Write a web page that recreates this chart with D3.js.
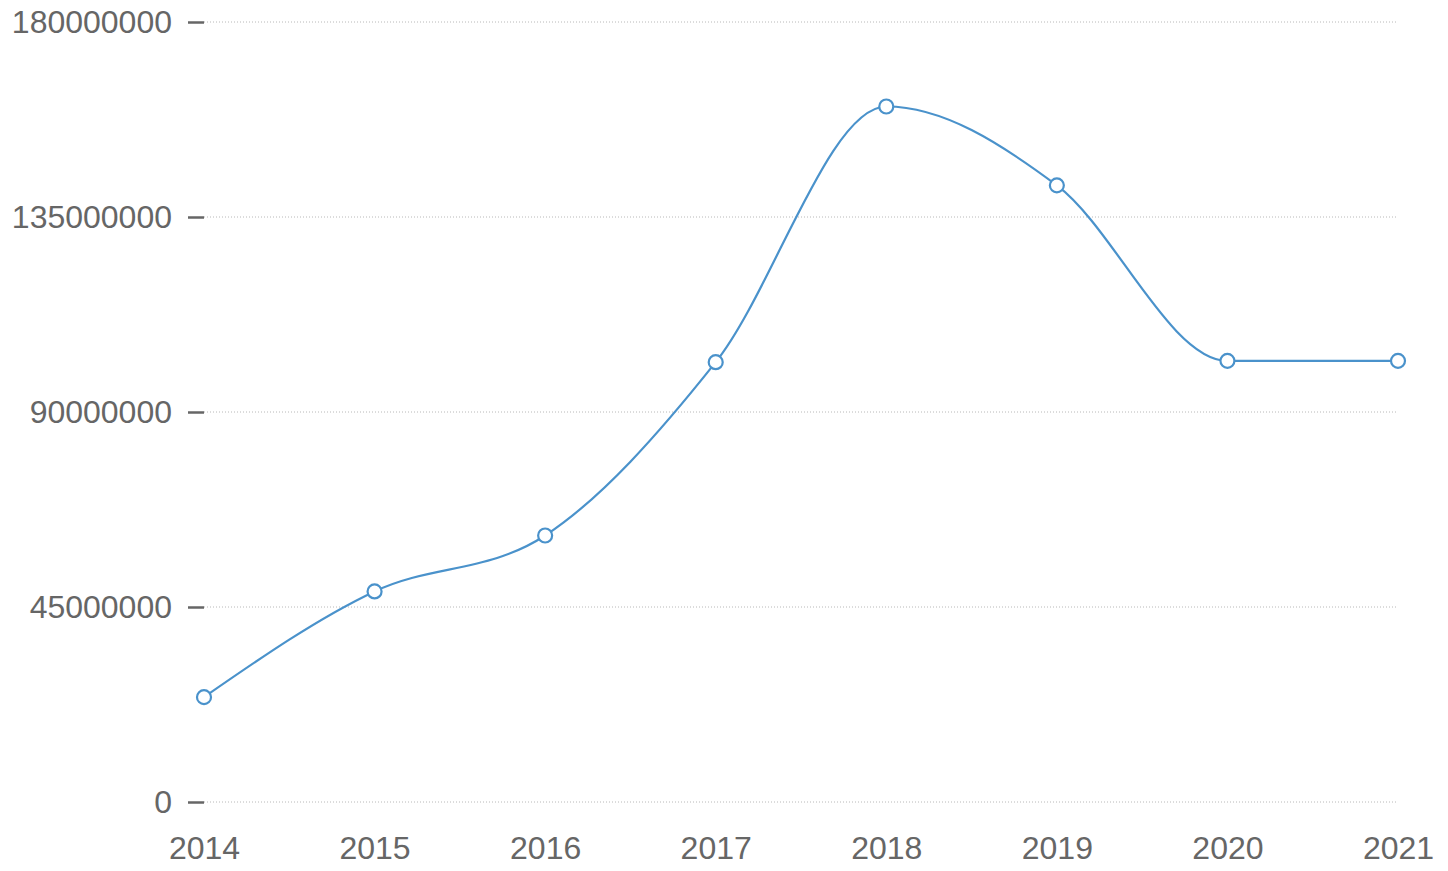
<!DOCTYPE html>
<html>
<head>
<meta charset="utf-8">
<script src="https://cdn.jsdelivr.net/npm/d3@7"></script>
<style>
  body { margin: 0; background: #fff; }
  svg { display: block; font-family: 'Liberation Sans', Arial, sans-serif; }
</style>
</head>
<body>
<svg id="chart" width="1448" height="871"></svg>
<script>
const years = ['2014', '2015', '2016', '2017', '2018', '2019', '2020', '2021'];
const values = [24200000, 48600000, 61500000, 101500000, 160500000, 142300000, 101800000, 101800000];
const yTicks = [0, 45000000, 90000000, 135000000, 180000000];

const w = 1448;
const h = 871;
const margin = { top: 22, right: 50, bottom: 69, left: 204 };
const fontSize = '32px';

const svg = d3.select('#chart');

const xScale = d3.scalePoint()
  .domain(years)
  .range([margin.left, w - margin.right]);

const yScale = d3.scaleLinear()
  .domain([0, 180000000])
  .range([h - margin.bottom, margin.top]);

// grid lines
svg.append('g')
  .selectAll('line')
  .data(yTicks)
  .enter()
  .append('line')
  .attr('x1', margin.left)
  .attr('x2', w - margin.right)
  .attr('y1', d => yScale(d))
  .attr('y2', d => yScale(d))
  .attr('stroke', '#b8b8b8')
  .attr('stroke-width', 1)
  .attr('stroke-dasharray', '1,2');

// y axis
const yAxis = svg.append('g')
  .attr('transform', `translate(${margin.left}, 0)`)
  .call(d3.axisLeft(yScale)
    .tickValues(yTicks)
    .tickFormat(d => d)
    .tickSize(16)
    .tickPadding(16));
yAxis.select('.domain').remove();
yAxis.selectAll('.tick line').attr('stroke', '#666').attr('stroke-width', 2.5);
yAxis.selectAll('text')
  .attr('fill', '#666')
  .style('font-size', fontSize)
  .style('font-family', "'Liberation Sans', Arial, sans-serif");

// x axis
const xAxis = svg.append('g')
  .attr('transform', `translate(0, ${h - margin.bottom})`)
  .call(d3.axisBottom(xScale).tickSize(0).tickPadding(34));
xAxis.select('.domain').remove();
xAxis.selectAll('text')
  .attr('fill', '#666')
  .style('font-size', fontSize)
  .style('font-family', "'Liberation Sans', Arial, sans-serif");

const data = years.map((y, i) => ({ year: y, value: values[i] }));

const line = d3.line()
  .x(d => xScale(d.year))
  .y(d => yScale(d.value))
  .curve(d3.curveMonotoneX);

svg.append('path')
  .datum(data)
  .attr('d', line)
  .attr('fill', 'none')
  .attr('stroke', '#4a92cb')
  .attr('stroke-width', 2.2);

svg.append('g')
  .selectAll('circle')
  .data(data)
  .enter()
  .append('circle')
  .attr('cx', d => xScale(d.year))
  .attr('cy', d => yScale(d.value))
  .attr('r', 7)
  .attr('fill', '#fff')
  .attr('stroke', '#4a92cb')
  .attr('stroke-width', 2.2);
</script>
</body>
</html>
